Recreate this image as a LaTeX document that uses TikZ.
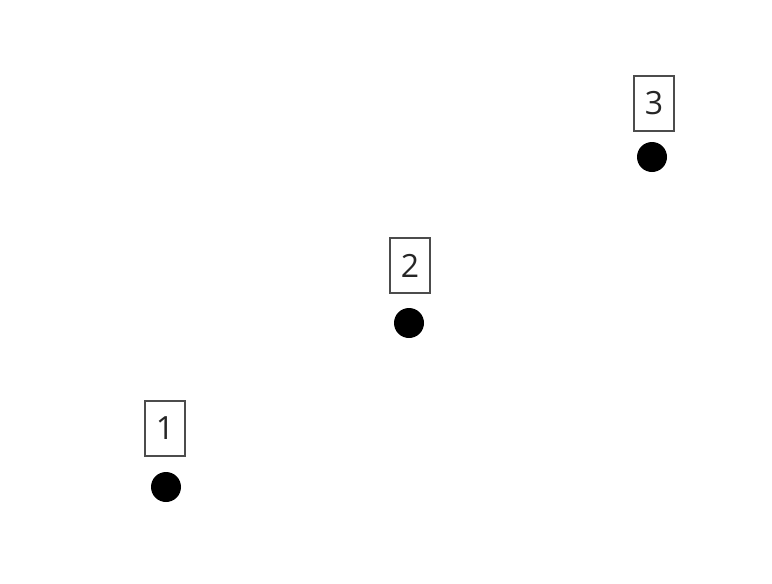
\documentclass[tikz,border=0pt]{standalone}
\usepackage{fontspec}
\setmainfont{Open Sans}
\begin{document}
\begin{tikzpicture}[x=1pt,y=-1pt,
  dot/.style={circle,fill=black,inner sep=0pt,minimum size=30pt},
  lbl/.style={draw=black!70,line width=1.5pt,inner sep=0pt,minimum width=40pt,minimum height=55pt,font=\fontsize{32}{36}\selectfont,text=black!85}]
\useasboundingbox (0,0) rectangle (772,584);
\node[dot] (d1) at (166,487) {};
\node[dot] (d2) at (409,323) {};
\node[dot] (d3) at (652,157) {};
\node[lbl] (l1) at (165,428.5) {1};
\node[lbl] (l2) at (410,265.5) {2};
\node[lbl] (l3) at (654,103.5) {3};
\end{tikzpicture}
\end{document}
